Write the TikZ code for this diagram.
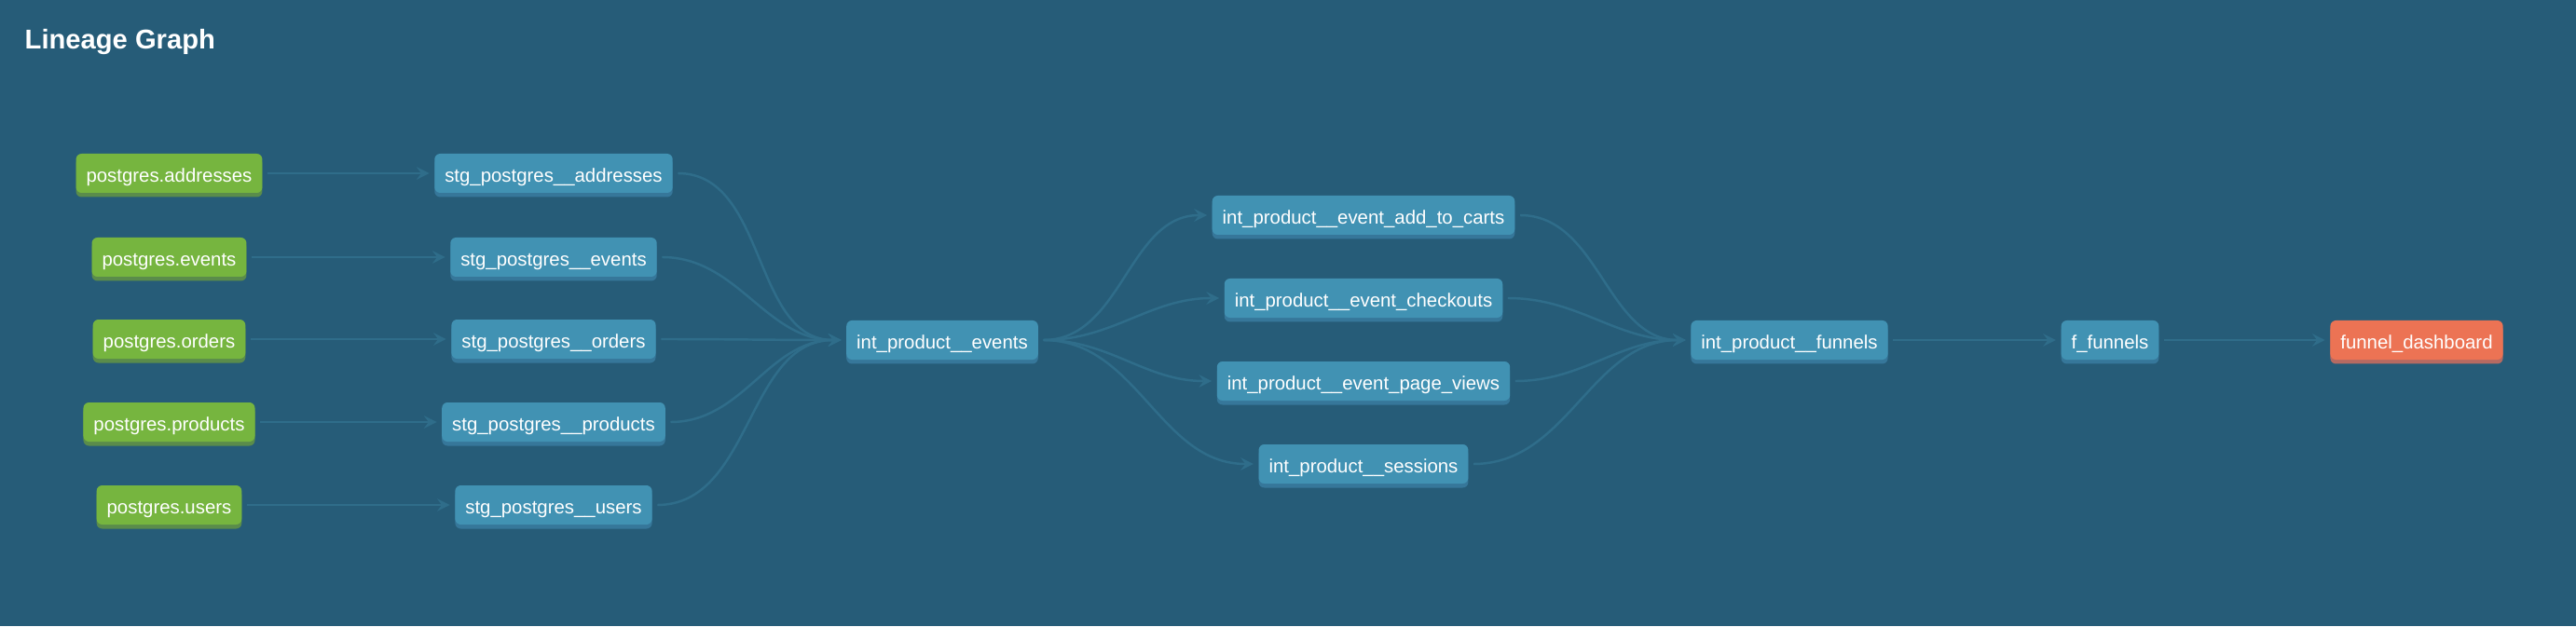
\documentclass[tikz,border=0pt]{standalone}
\usepackage{fontspec}
\setmainfont{Liberation Sans}
\usetikzlibrary{shapes,arrows,positioning,calc,shadows}

\definecolor{canvas}{HTML}{265C78}
\definecolor{srcgreen}{HTML}{76B53F}
\definecolor{srcshadow}{HTML}{5A8C4B}
\definecolor{modelblue}{HTML}{4192B3}
\definecolor{modelshadow}{HTML}{36779A}
\definecolor{expoorange}{HTML}{EC7354}
\definecolor{exposhadow}{HTML}{B56A62}
\definecolor{edgeline}{HTML}{2F6D8A}

\begin{document}
\begin{tikzpicture}[
    font=\fontsize{5.8pt}{7pt}\selectfont,
    base/.style={rectangle, rounded corners=0.06cm, text=white,
                 minimum height=0.42cm, inner xsep=0.11cm, inner ysep=0pt,
                 text height=0.75em, text depth=0.22em, text centered},
    source/.style={base, fill=srcgreen,
                   drop shadow={shadow xshift=0pt, shadow yshift=-0.045cm, fill=srcshadow, opacity=1}},
    model/.style={base, fill=modelblue,
                  drop shadow={shadow xshift=0pt, shadow yshift=-0.045cm, fill=modelshadow, opacity=1}},
    expo/.style={base, fill=expoorange,
                 drop shadow={shadow xshift=0pt, shadow yshift=-0.045cm, fill=exposhadow, opacity=1}},
    arrow/.style={->, >=stealth, draw=edgeline, line width=0.7pt,
                  shorten >=0.05cm, shorten <=0.05cm},
    heading/.style={font=\bfseries\fontsize{8.3pt}{10pt}\selectfont, text=white, inner sep=0pt}
]

% Canvas
\useasboundingbox (0,0) rectangle (27.64,6.72);
\fill[canvas] (0,0) rectangle (27.64,6.72);

% Title
\node[heading, anchor=base west] (title) at (0.26, 6.19) {Lineage Graph};

% Hubs
\node[model] (int_events) at (10.11, 3.07) {int\_product\_\_events};
\node[model] (int_funnels) at (19.20, 3.07) {int\_product\_\_funnels};

% Sources and staging
\foreach \key/\y in {addresses/4.86, events/3.96, orders/3.08, products/2.19, users/1.30} {
    \node[source] (src_\key) at (1.815, \y) {postgres.\key};
    \node[model] (stg_\key) at (5.94, \y) {stg\_postgres\_\_\key};
    \draw[arrow] (src_\key) -- (stg_\key);
    \draw[arrow] (stg_\key.east) to[out=0, in=180] (int_events.west);
}

% Event models
\foreach \key/\txt/\y in {carts/event\_add\_to\_carts/4.41, checkouts/event\_checkouts/3.52,
                          views/event\_page\_views/2.63, sessions/sessions/1.74} {
    \node[model] (int_\key) at (14.63, \y) {int\_product\_\_\txt};
    \draw[arrow] (int_events.east) to[out=0, in=180] (int_\key.west);
    \draw[arrow] (int_\key.east) to[out=0, in=180] (int_funnels.west);
}

% Marts and exposure
\node[model] (f_funnels) at (22.64, 3.07) {f\_funnels};
\node[expo] (dashboard) at (25.93, 3.07) {funnel\_dashboard};
\draw[arrow] (int_funnels) -- (f_funnels);
\draw[arrow] (f_funnels) -- (dashboard);

\end{tikzpicture}
\end{document}
